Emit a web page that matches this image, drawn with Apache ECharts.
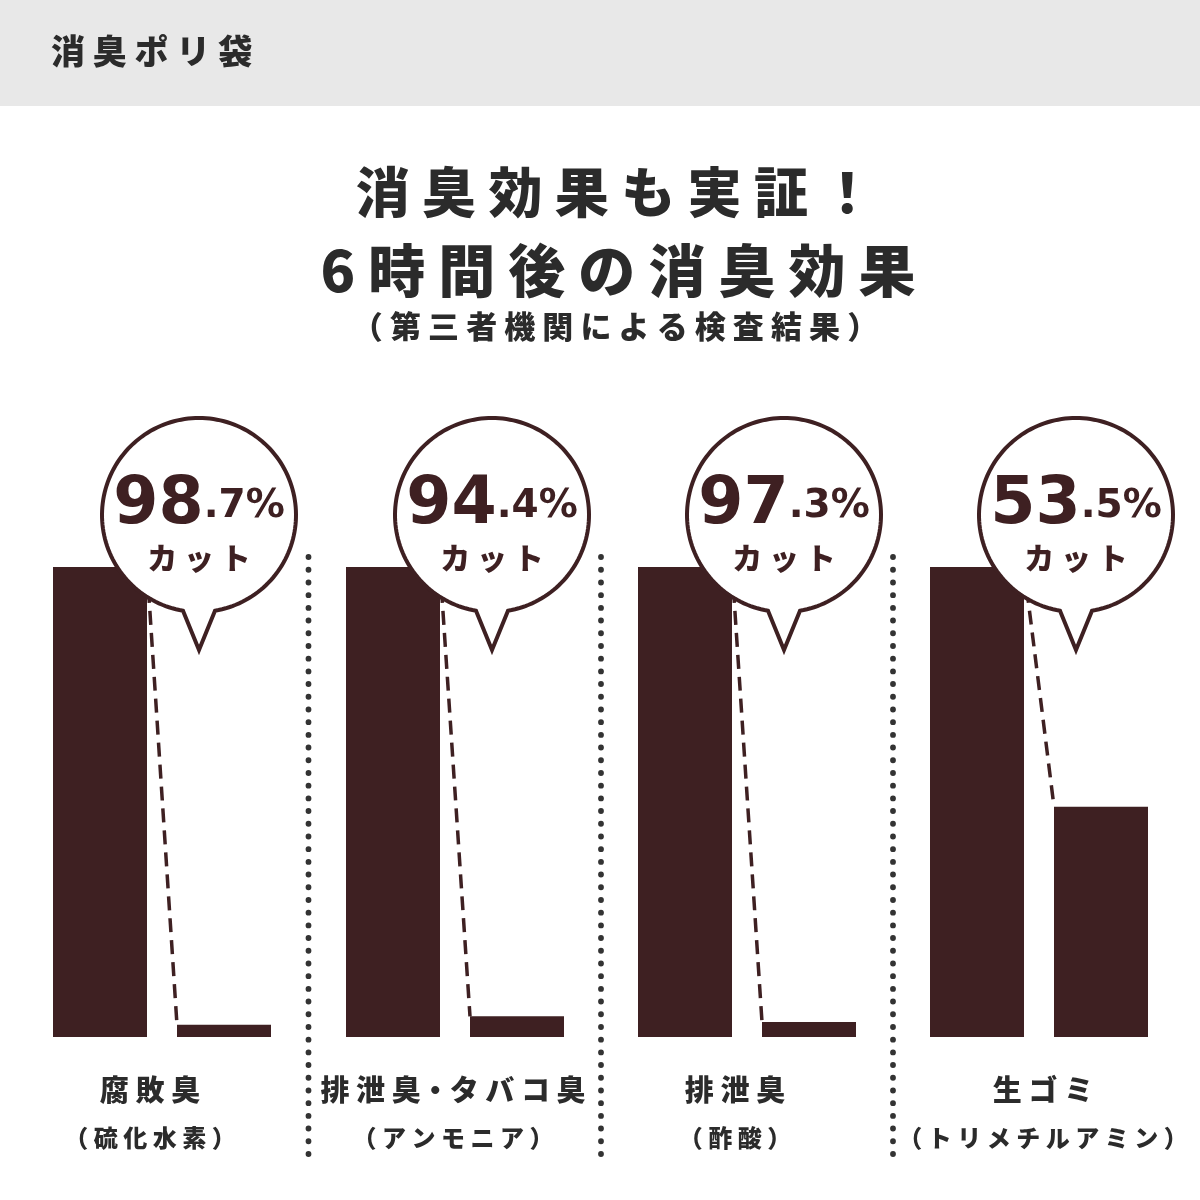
<!DOCTYPE html>
<html><head><meta charset="utf-8">
<script src="https://cdn.jsdelivr.net/npm/echarts@6/dist/echarts.min.js"></script>
<style>html,body{margin:0;padding:0;background:#fff}#main{width:1200px;height:1200px}</style>
</head><body><div id="main"></div>
<script>
// ---- data ----
const pageTitle = '消臭ポリ袋';
const headline1 = '消臭効果も実証！';
const headline2 = '6時間後の消臭効果';
const headline3 = '（第三者機関による検査結果）';
const categories = ['腐敗臭', '排泄臭・タバコ臭', '排泄臭', '生ゴミ'];
const subLabels = ['（硫化水素）', '（アンモニア）', '（酢酸）', '（トリメチルアミン）'];
const barNames = ['使用前', '6時間後'];
const beforeValues = [100, 100, 100, 100];
const afterValues = [2.6, 4.4, 3.2, 49];
const cutWhole = ['98', '94', '97', '53'];
const cutDecimal = ['.7%', '.4%', '.3%', '.5%'];
const cutWord = 'カット';

// ---- style / layout ----
const BROWN = '#3e2022';
const INK = '#2b2b2b';
const JP = '"Noto Sans CJK JP", "Noto Sans", sans-serif';
const NUM = '"DejaVu Sans", sans-serif';
const GRID_LEFT = [38, 331, 623, 915];
const GRID_W = 248, GRID_TOP = 567, GRID_H = 470;
const BAR_W = 94;
const LABEL_X = [150, 453, 735, 1043];

const sp = s => s.split('').join(' ').replace(/ ・ /g, '・');

const chart = echarts.init(document.getElementById('main'), null, {renderer: 'canvas'});

const grids = [], xAxes = [], yAxes = [], series = [];
categories.forEach((c, i) => {
  grids.push({left: GRID_LEFT[i], top: GRID_TOP, width: GRID_W, height: GRID_H});
  xAxes.push({gridIndex: i, type: 'category', data: barNames, show: false});
  yAxes.push({gridIndex: i, type: 'value', min: 0, max: 100, show: false});
  series.push({
    type: 'bar', xAxisIndex: i, yAxisIndex: i, barWidth: BAR_W, silent: true,
    itemStyle: {color: BROWN},
    data: [beforeValues[i], afterValues[i]]
  });
  series.push({
    type: 'custom', xAxisIndex: i, yAxisIndex: i, z: 5, clip: false, silent: true,
    data: [[0, beforeValues[i]]],
    renderItem: function (params, api) {
      const p1 = api.coord([0, beforeValues[i]]);
      const p2 = api.coord([1, afterValues[i]]);
      const half = BAR_W / 2;
      const cx = p2[0] - 25, cy = p1[1] - 52;
      const r = 97, hw = 16, tipY = cy + 135;
      const d = Math.asin(hw / r);
      const pts = [];
      const n = 160;
      const t0 = Math.PI / 2 + d, t1 = Math.PI / 2 - d + Math.PI * 2;
      for (let k = 0; k <= n; k++) {
        const t = t0 + (t1 - t0) * k / n;
        pts.push([cx + r * Math.cos(t), cy + r * Math.sin(t)]);
      }
      pts.push([cx, tipY]);
      return {
        type: 'group',
        children: [
          {type: 'line', shape: {x1: p1[0] + half, y1: p1[1], x2: p2[0] - half, y2: p2[1]},
           style: {stroke: BROWN, lineWidth: 3.5, lineDash: [14, 8]}},
          {type: 'polygon', shape: {points: pts},
           style: {fill: '#fff', stroke: BROWN, lineWidth: 4, lineJoin: 'miter'}},
          {type: 'text', x: cx, y: cy + 24,
           style: {text: '{a|' + cutWhole[i] + '}{b|' + cutDecimal[i] + '}',
                   fill: BROWN, align: 'center', verticalAlign: 'bottom',
                   rich: {
                     a: {fontSize: 65, fontWeight: 'bold', fontFamily: NUM, fill: BROWN, lineHeight: 65},
                     b: {fontSize: 39, fontWeight: 'bold', fontFamily: NUM, fill: BROWN, lineHeight: 49}
                   }}},
          {type: 'text', x: cx, y: cy + 43,
           style: {text: sp(cutWord), fill: BROWN, fontSize: 30, fontWeight: 900, fontFamily: JP,
                   align: 'center', verticalAlign: 'middle'}}
        ]
      };
    }
  });
});

function txt(text, x, y, size, opts) {
  opts = opts || {};
  return {
    type: 'text', x: x, y: y, z: 20, silent: true,
    style: {text: text, fill: opts.fill || INK, fontSize: size, fontWeight: 900, fontFamily: JP,
            align: opts.align || 'center', verticalAlign: 'middle',
            textAlign: opts.align || 'center', textVerticalAlign: 'middle'}
  };
}

const graphics = [
  {type: 'rect', x: 0, y: 0, z: 0, silent: true, shape: {width: 1200, height: 106}, style: {fill: '#e8e8e8'}},
  txt(sp(pageTitle), 51, 51, 34, {align: 'left'}),
  txt(sp(headline1), 615, 192, 54),
  txt(sp(headline2), 618, 270, 57),
  txt(sp(headline3), 615, 326, 31)
];
categories.forEach((c, i) => {
  graphics.push(txt(sp(c), LABEL_X[i], 1090, 29));
  graphics.push(txt(sp(subLabels[i]), LABEL_X[i], 1138, 24));
  if (i < categories.length - 1) {
    const x = (GRID_LEFT[i] + GRID_W + GRID_LEFT[i + 1]) / 2;
    graphics.push({type: 'line', z: 20, silent: true, shape: {x1: x, y1: 557, x2: x, y2: 1163},
      style: {stroke: '#333', lineWidth: 5.8, lineDash: [0.1, 12.6], lineCap: 'round'}});
  }
});

chart.setOption({
  animation: false,
  backgroundColor: '#ffffff',
  grid: grids, xAxis: xAxes, yAxis: yAxes, series: series,
  graphic: graphics
});
</script></body></html>
